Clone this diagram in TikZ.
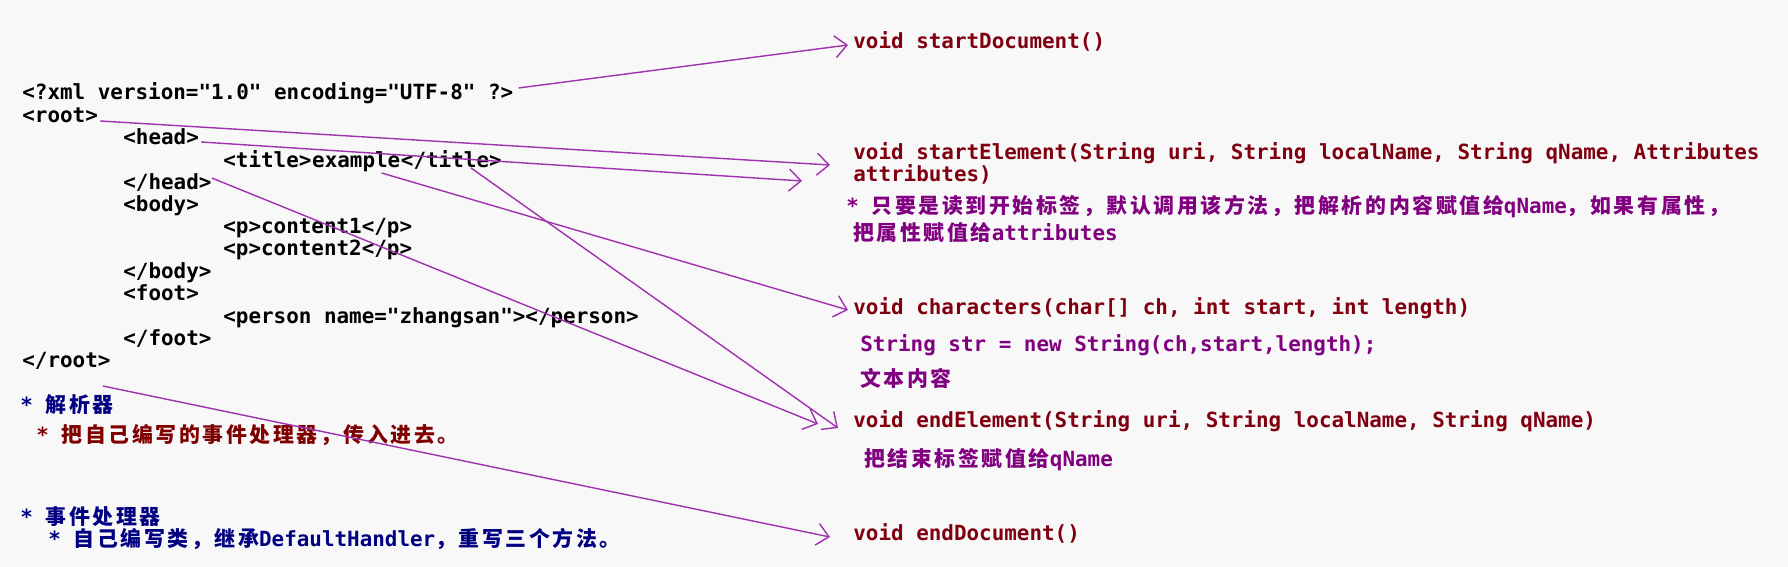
\documentclass[tikz,border=0pt]{standalone}
\usepackage{fontspec}
\usepackage{tikz}
\usepackage{xcolor}
\setmonofont{DejaVu Sans Mono}
\newfontfamily\cjk[LetterSpace=12.5]{Noto Sans CJK SC}
\usetikzlibrary{positioning, arrows.meta}
\definecolor{bgpaper}{RGB}{248, 248, 248}
\definecolor{linkpurple}{RGB}{160, 50, 175}
\definecolor{methodred}{RGB}{128, 0, 16}
\definecolor{notepurple}{RGB}{128, 0, 128}
\definecolor{navyblue}{RGB}{0, 0, 128}
\definecolor{darkmaroon}{RGB}{128, 0, 0}
\newcommand{\zh}[1]{{\cjk #1}}

\begin{document}
\begin{tikzpicture}[
  x=0.02cm, y=-0.02cm,
  every node/.style={font=\fontsize{11.9}{14}\selectfont\ttfamily\bfseries, inner sep=0pt, anchor=west, text height=1.5ex, text depth=0.4ex},
  tag/.style={text=black},
  method/.style={text=methodred},
  note/.style={text=notepurple},
  >={Straight Barb[length=0.24cm, width=0.44cm]},
  link/.style={->, draw=linkpurple, line width=0.8pt}
]

\fill[bgpaper] (0,0) rectangle (1788,567);

\node[tag] (xmldecl) at (22,95) {<?xml version="1.0" encoding="UTF-8" ?>};
\node[tag] (rootopen) at (22,118) {<root>};
\node[tag] (headopen) at (123,140) {<head>};
\node[tag] (titletag) at (223,163) {<title>};
\node[tag, right=0pt of titletag] (exampletext) {example};
\node[tag, right=0pt of exampletext] (titleclose) {</title>};
\node[tag] (headclose) at (123,185) {</head>};
\node[tag] (bodyopen) at (123,207) {<body>};
\node[tag] (pone) at (223,229) {<p>content1</p>};
\node[tag] (ptwo) at (223,251) {<p>content2</p>};
\node[tag] (bodyclose) at (123,274) {</body>};
\node[tag] (footopen) at (123,296) {<foot>};
\node[tag] (person) at (223,319) {<person name="zhangsan"></person>};
\node[tag] (footclose) at (123,341) {</foot>};
\node[tag] (rootclose) at (22,363) {</root>};

\node[text=navyblue] (parser) at (20,408) {* \zh{解析器}};
\node[text=darkmaroon] (parsernote) at (36,438) {* \zh{把自己编写的事件处理器，传入进去。}};
\node[text=navyblue] (handler) at (20,520) {* \zh{事件处理器}};
\node[text=navyblue] (handlernote) at (48,542) {* \zh{自己编写类，继承}DefaultHandler\zh{，重写三个方法。}};

\node[method] (startdoc) at (853,44) {void startDocument()};
\node[method] (startel) at (853,155) {void startElement(String uri, String localName, String qName, Attributes};
\node[method] (startelb) at (853,177) {attributes)};
\node[note] (startnote) at (846,209) {* \zh{只要是读到开始标签，默认调用该方法，把解析的内容赋值给}qName\zh{，如果有属性，}};
\node[note] (startnoteb) at (853,236) {\zh{把属性赋值给}attributes};
\node[method] (chars) at (853,310) {void characters(char[] ch, int start, int length)};
\node[note] (charsnote) at (860,347) {String str = new String(ch,start,length);};
\node[note] (charstext) at (860,382) {\zh{文本内容}};
\node[method] (endel) at (853,423) {void endElement(String uri, String localName, String qName)};
\node[note] (endnote) at (864,462) {\zh{把结束标签赋值给}qName};
\node[method] (enddoc) at (853,536) {void endDocument()};

\draw[link] ([shift={(5,-7)}]xmldecl.east) -- ([shift={(-5,1)}]startdoc.west);
\draw[link] ([shift={(2,3)}]rootopen.east) -- ([shift={(-23,10)}]startel.west);
\draw[link] ([shift={(2,2)}]headopen.east) -- ([shift={(-51,4)}]startelb.west);
\draw[link] ([shift={(-19,10)}]exampletext.east) -- ([shift={(-5,0)}]chars.west);
\draw[link] ([shift={(-31,5)}]titleclose.east) -- ([shift={(-15,5)}]endel.west);
\draw[link] ([shift={(0,-7)}]headclose.east) -- ([shift={(-35,1)}]endel.west);
\draw[link] ([shift={(-8,23)}]rootclose.east) -- ([shift={(-23,1)}]enddoc.west);

\end{tikzpicture}
\end{document}
